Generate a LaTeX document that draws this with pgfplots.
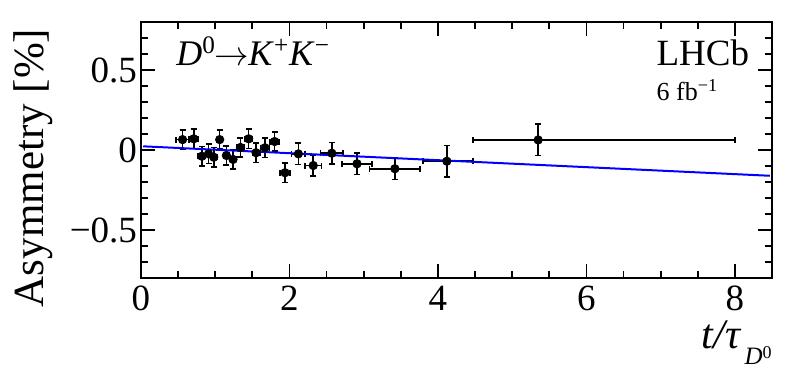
\documentclass[border=0pt]{standalone}
\usepackage{fontspec}
\setmainfont{Liberation Serif}
\usepackage{pgfplots}
\pgfplotsset{compat=1.18}
\begin{document}
\begin{tikzpicture}
\begin{axis}[
  name=ax,
  scale only axis,
  width=315.5pt, height=128pt,
  xmin=0, xmax=8.5, ymin=-0.8, ymax=0.8,
  xtick={0,2,4,6,8},
  xticklabels={\textrm{0},\textrm{2},\textrm{4},\textrm{6},\textrm{8}},
  minor xtick={0.5,1,1.5,2.5,3,3.5,4.5,5,5.5,6.5,7,7.5},
  ytick={-0.5,0,0.5},
  yticklabels={\textrm{−0.5},\textrm{0},\textrm{0.5}},
  minor ytick={-0.7,-0.6,-0.4,-0.3,-0.2,-0.1,0.1,0.2,0.3,0.4,0.6,0.7},
  tick align=inside, tick pos=both,
  major tick length=7pt, minor tick length=3.5pt,
  axis line style={line width=1pt},
  tick style={line width=0.9pt, black},
  tick label style={font=\fontsize{18.5}{18.5}\selectfont},
  xticklabel style={yshift=-0.5pt},
  yticklabel style={xshift=1.5pt},
  clip=false,
  error bars/error bar style={line width=0.8pt, black},
  error bars/error mark options={rotate=90, mark size=1.5pt, line width=0.8pt, black},
]
% data points: (t/tau, asymmetry) +- (x half-width, stat. error)
\addplot[only marks, mark=*, mark size=2.1pt, black,
  error bars/.cd, x dir=both, x explicit, y dir=both, y explicit]
  coordinates {
  (0.56,0.065) +- (0.09,0.060)
  (0.71,0.070) +- (0.06,0.060)
  (0.82,-0.039) +- (0.05,0.060)
  (0.91,-0.024) +- (0.04,0.060)
  (0.98,-0.045) +- (0.04,0.060)
  (1.06,0.065) +- (0.04,0.060)
  (1.15,-0.034) +- (0.04,0.060)
  (1.24,-0.059) +- (0.04,0.060)
  (1.34,0.016) +- (0.05,0.060)
  (1.45,0.070) +- (0.05,0.060)
  (1.55,-0.017) +- (0.05,0.060)
  (1.67,0.014) +- (0.06,0.060)
  (1.80,0.053) +- (0.06,0.060)
  (1.94,-0.142) +- (0.07,0.060)
  (2.12,-0.024) +- (0.09,0.067)
  (2.32,-0.097) +- (0.11,0.067)
  (2.57,-0.020) +- (0.15,0.067)
  (2.91,-0.086) +- (0.20,0.067)
  (3.42,-0.117) +- (0.34,0.068)
  (4.12,-0.070) += (0.35,0.098) -= (0.32,0.098)
  (5.35,0.063) += (2.65,0.098) -= (0.88,0.098)
  };
% linear fit
\addplot[blue, line width=1pt] coordinates {(0.03,0.023) (8.47,-0.161)};
\node[anchor=base west, inner sep=0, font=\fontsize{18}{18}\selectfont]
  at (axis cs:0.47,0.526) {\textit{D}\textsuperscript{0}\kern-0.5pt$\rightarrow$\kern-0.5pt\textit{K}\textsuperscript{+}\textit{K}\textsuperscript{−}};
\node[anchor=base west, inner sep=0, font=\fontsize{18.5}{18.5}\selectfont]
  at (axis cs:6.94,0.526) {LHCb};
\node[anchor=base west, inner sep=0, font=\fontsize{13}{13}\selectfont]
  at (axis cs:6.94,0.31) {6 fb\textsuperscript{−1}};
\node[rotate=90, inner sep=0, anchor=center, font=\fontsize{21.5}{21.5}\selectfont]
  at ([xshift=-53.75pt]axis cs:0,-0.112) {Asymmetry [\%]};
\node[anchor=base east, inner sep=0, font=\fontsize{21}{21}\selectfont]
  at ([yshift=-35pt]axis cs:8.5,-0.8)
  {\textit{t/τ}\hspace{1.5pt}\raisebox{-8pt}{\fontsize{12.5}{12.5}\selectfont\textit{D}\raisebox{3pt}{\fontsize{9}{9}\selectfont 0}}};
\end{axis}
\pgfresetboundingbox
\path[use as bounding box] ([xshift=-70.5pt,yshift=-47pt]ax.south west) rectangle ([xshift=12pt,yshift=11pt]ax.north east);
\end{tikzpicture}
\end{document}
